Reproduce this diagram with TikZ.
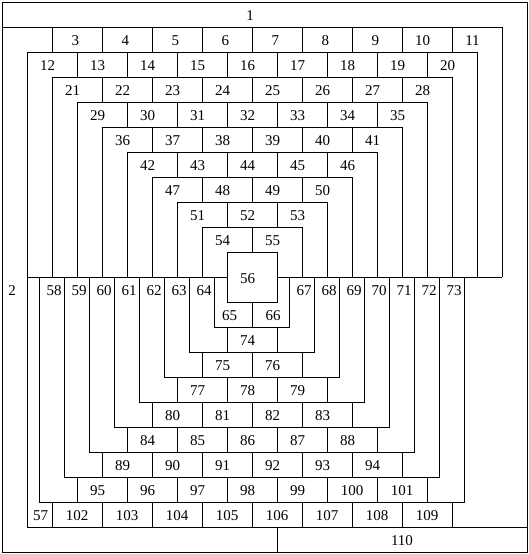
\documentclass[tikz,border=0pt]{standalone}
\usepackage{fontspec}
\setmainfont{Liberation Serif}
\newcommand\cellnum[3]{%
  \pgfmathsetmacro\cnoff{ifthenelse(#1<10,-0.07,ifthenelse(#1<100,-0.18,0))}%
  \node[lab] (l#1) at ({#2+\cnoff},#3) {#1};}
\begin{document}
\begin{tikzpicture}[x=25pt,y=-25pt,line width=0.9pt,
  lab/.style={inner sep=0pt,font=\fontsize{15}{17}\selectfont,yshift=-1.5pt}]
\useasboundingbox (-0.08,-0.08) rectangle (21.08,22.08);
% outer frame and region 1
\draw (0,0) rectangle (21,22);
\draw (0,1) -- (20,1) -- (20,11);
% top bands
\foreach \k in {1,...,8} \draw (\k,11) -- (\k,1+\k) -- (20-\k,1+\k) -- (20-\k,11);
\draw (1,11) -- (1,21);
\draw (9,10) rectangle (11,12);
\foreach \k in {0,...,8}{
  \pgfmathtruncatemacro\N{8-\k}
  \foreach \m in {0,...,\N} \draw ({2+\k+2*\m},1+\k) -- ({2+\k+2*\m},2+\k);
}
% middle line
\draw (1,11) -- (9,11);
\draw (11,11) -- (20,11);
% bottom bands
\foreach \j in {0,...,7} \draw (8.5-\j,11) -- (8.5-\j,13+\j) -- (11.5+\j,13+\j) -- (11.5+\j,11);
\foreach \j in {0,...,8}{
  \foreach \m in {0,...,\j} \draw ({10-\j+2*\m},12+\j) -- ({10-\j+2*\m},13+\j);
}
\draw (1,21) -- (21,21);
\draw (11,21) -- (11,22);
% labels
\node[lab] (l1) at (9.92,0.5) {1};
\node[lab] (l2) at (0.4,11.5) {2};
\foreach \m in {0,...,8}{\pgfmathtruncatemacro\n{3+\m}\cellnum{\n}{3+2*\m}{1.5}}
\foreach \k/\s in {1/12,2/21,3/29,4/36,5/42,6/47,7/51,8/54}{
  \pgfmathtruncatemacro\N{9-\k}
  \foreach \m in {0,...,\N}{\pgfmathtruncatemacro\n{\s+\m}\cellnum{\n}{\k+1+2*\m}{\k+1.5}}
}
\cellnum{56}{10}{11}
\foreach \i in {0,...,6}{
  \pgfmathtruncatemacro\n{58+\i}\node[lab] (l\n) at (2.08+\i,11.5) {\n};
  \pgfmathtruncatemacro\n{67+\i}\node[lab] (l\n) at (12.08+\i,11.5) {\n};
}
\node[lab] (l65) at (9.1,12.5) {65};
\node[lab] (l66) at (10.84,12.5) {66};
\foreach \j/\s in {1/74,2/75,3/77,4/80,5/84,6/89,7/95}{
  \pgfmathtruncatemacro\N{\j-1}
  \foreach \m in {0,...,\N}{\pgfmathtruncatemacro\n{\s+\m}\cellnum{\n}{11-\j+2*\m}{12.5+\j}}
}
\node[lab] (l57) at (1.54,20.5) {57};
\foreach \m in {0,...,7}{\pgfmathtruncatemacro\n{102+\m}\cellnum{\n}{3+2*\m}{20.5}}
\node[lab] (l110) at (16,21.5) {110};
\end{tikzpicture}
\end{document}
